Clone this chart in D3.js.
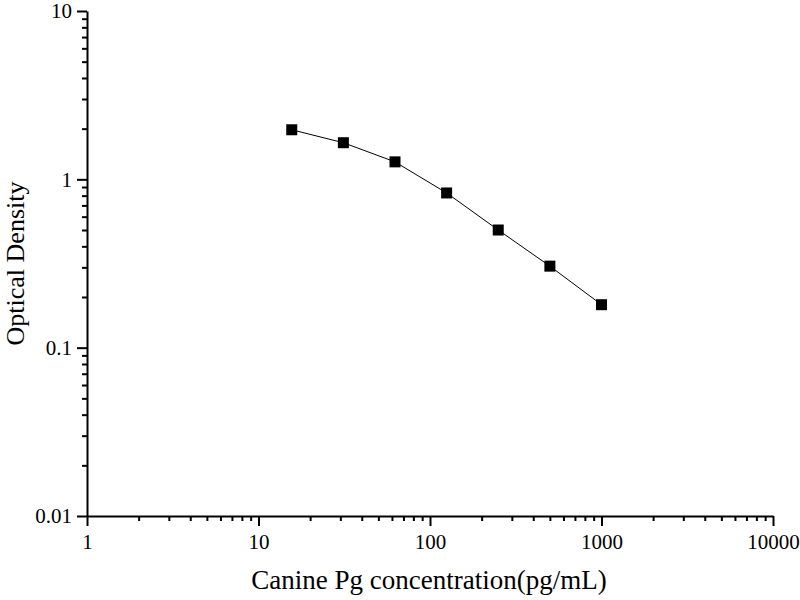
<!DOCTYPE html>
<html>
<head>
<meta charset="utf-8">
<script src="https://cdn.jsdelivr.net/npm/d3@7"></script>
<style>
  html, body { margin: 0; padding: 0; background: #fff; }
  svg { display: block; font-family: "Liberation Serif", "Times New Roman", serif; }
</style>
</head>
<body>
<div id="chart"></div>
<script>
// Standard curve data
const concentration = [15.625, 31.25, 62.5, 125, 250, 500, 1000];
const opticalDensity = [1.97, 1.65, 1.27, 0.83, 0.50, 0.305, 0.18];

const xTicks = [1, 10, 100, 1000, 10000];
const yTicks = [0.01, 0.1, 1, 10];

const width = 800, height = 600;
const margin = { top: 11, right: 27, bottom: 84, left: 87 };

const svg = d3.select('#chart')
  .append('svg')
    .attr('width', width)
    .attr('height', height);

const x = d3.scaleLog()
  .domain([1, 10000])
  .range([margin.left, width - margin.right]);

const y = d3.scaleLog()
  .domain([0.01, 10])
  .range([height - margin.bottom, margin.top]);

// minor ticks for each decade
function minorTicks(domain) {
  const out = [];
  for (let p = Math.log10(domain[0]); p < Math.log10(domain[1]); p++) {
    for (let k = 2; k <= 9; k++) out.push(k * Math.pow(10, p));
  }
  return out;
}

const fmt = d => String(+d.toPrecision(6));

// X axis
const xAxisG = svg.append('g')
  .attr('transform', `translate(0,${y(0.01)})`);

xAxisG.append('g')
  .call(d3.axisBottom(x).tickValues(minorTicks(x.domain())).tickSize(5).tickFormat(''))
  .call(g => g.select('.domain').remove());

xAxisG.append('g')
  .call(d3.axisBottom(x).tickValues(xTicks).tickSize(10).tickSizeOuter(0).tickPadding(8).tickFormat(fmt))
  .call(g => g.selectAll('text').attr('font-size', 21).attr('fill', '#000').attr('font-family', 'Liberation Serif'));

// Y axis
const yAxisG = svg.append('g')
  .attr('transform', `translate(${x(1)},0)`);

yAxisG.append('g')
  .call(d3.axisLeft(y).tickValues(minorTicks(y.domain())).tickSize(5).tickFormat(''))
  .call(g => g.select('.domain').remove());

yAxisG.append('g')
  .call(d3.axisLeft(y).tickValues(yTicks).tickSize(10).tickSizeOuter(0).tickPadding(5).tickFormat(fmt))
  .call(g => g.selectAll('text').attr('font-size', 21).attr('fill', '#000').attr('font-family', 'Liberation Serif'));

svg.selectAll('.domain, .tick line')
  .attr('stroke', '#000')
  .attr('stroke-width', 2);

// Axis titles
svg.append('text')
  .attr('x', 429)
  .attr('y', 589)
  .attr('text-anchor', 'middle')
  .attr('font-size', 27)
  .attr('fill', '#000')
  .text('Canine Pg concentration(pg/mL)');

svg.append('text')
  .attr('transform', `translate(24,${(y(0.01) + y(10)) / 2}) rotate(-90)`)
  .attr('text-anchor', 'middle')
  .attr('font-size', 26)
  .attr('fill', '#000')
  .text('Optical Density');

// Curve and markers
const points = concentration.map((c, i) => ({ c, od: opticalDensity[i] }));

svg.append('path')
  .datum(points)
  .attr('fill', 'none')
  .attr('stroke', '#000')
  .attr('stroke-width', 1)
  .attr('d', d3.line()
    .x(d => x(d.c))
    .y(d => y(d.od)));

const size = 11;
svg.append('g')
  .selectAll('rect')
  .data(points)
  .join('rect')
    .attr('x', d => x(d.c) - size / 2)
    .attr('y', d => y(d.od) - size / 2)
    .attr('width', size)
    .attr('height', size)
    .attr('fill', '#000');
</script>
</body>
</html>
